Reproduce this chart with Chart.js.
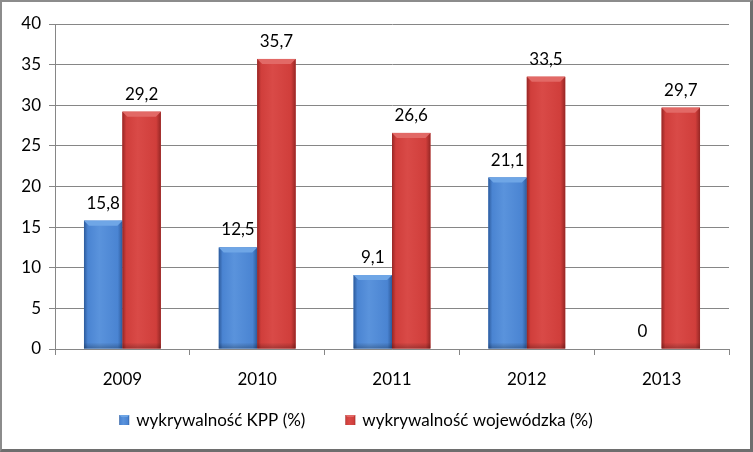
<!DOCTYPE html>
<html><head><meta charset="utf-8">
<script src="https://cdn.jsdelivr.net/npm/chart.js@4.4.0/dist/chart.umd.min.js"></script>
<style>
html,body{margin:0;padding:0;background:#fff;}
#wrap{position:relative;width:753px;height:452px;box-sizing:border-box;border-left:2px solid #8c8c8c;border-top:2px solid #8c8c8c;border-right:3px solid #6e6e6e;border-bottom:3px solid #6e6e6e;background:#fff;}
canvas{display:block;}
</style></head>
<body><div id="wrap"><canvas id="c" width="748" height="447"></canvas></div>
<script>
const categories = ['2009','2010','2011','2012','2013'];
const kppValues = [15.8, 12.5, 9.1, 21.1, 0];
const wojValues = [29.2, 35.7, 26.6, 33.5, 29.7];
const seriesNames = ['wykrywalność KPP (%)', 'wykrywalność wojewódzka (%)'];
const FONT = 'Lato, "Open Sans", sans-serif';

const shades = [
  {base:'#4a84d2', light:'#5a93dc', dark:'#2d5b9c', top:'#6fa6e6'},
  {base:'#d03e3b', light:'#d94a47', dark:'#962725', top:'#e26966'}
];

function shadeRect(ctx, s, x0, y0, w, h, bevMax){
  const g = ctx.createLinearGradient(x0,0,x0+w,0);
  g.addColorStop(0, s.dark); g.addColorStop(0.1, s.base); g.addColorStop(0.4, s.light);
  g.addColorStop(0.88, s.base); g.addColorStop(1, s.dark);
  ctx.fillStyle = g; ctx.fillRect(x0,y0,w,h);
  const bev = Math.min(bevMax, h/2);
  ctx.fillStyle = s.top;
  ctx.beginPath(); ctx.moveTo(x0,y0); ctx.lineTo(x0+w,y0); ctx.lineTo(x0+w-bev,y0+bev); ctx.lineTo(x0+bev,y0+bev); ctx.closePath(); ctx.fill();
}

const shadePlugin = {
  id:'shade',
  afterDatasetsDraw(chart){
    const ctx = chart.ctx;
    chart.data.datasets.forEach((ds, di)=>{
      const meta = chart.getDatasetMeta(di);
      const s = shades[di];
      meta.data.forEach((bar)=>{
        const w = bar.width, x0 = bar.x - w/2, y0 = Math.min(bar.y, bar.base), h = Math.abs(bar.base - bar.y);
        if (h < 0.5) return;
        ctx.save();
        shadeRect(ctx, s, x0, y0, w, h, 5);
        const vg = ctx.createLinearGradient(0,y0+h-6,0,y0+h);
        vg.addColorStop(0,'rgba(0,0,0,0)'); vg.addColorStop(1,'rgba(0,0,0,0.25)');
        ctx.fillStyle = vg; ctx.fillRect(x0,y0+h-6,w,6);
        ctx.restore();
      });
    });
  }
};

const labelPlugin = {
  id:'vlabels',
  afterDatasetsDraw(chart){
    const ctx = chart.ctx;
    ctx.save();
    ctx.font = '17px ' + FONT; ctx.fillStyle = '#000'; ctx.textAlign='center'; ctx.textBaseline='bottom';
    chart.data.datasets.forEach((ds, di)=>{
      chart.getDatasetMeta(di).data.forEach((bar, i)=>{
        ctx.fillText(String(ds.data[i]).replace('.', ','), bar.x, bar.y - 9);
      });
    });
    ctx.restore();
  }
};

const legendPlugin = {
  id:'customLegend',
  afterDraw(chart){
    const ctx = chart.ctx;
    ctx.save();
    ctx.font = '17px ' + FONT; ctx.fillStyle = '#000'; ctx.textBaseline='middle'; ctx.textAlign='left';
    const box = 10, gap = 7, spacing = 40, cy = 418;
    const widths = chart.data.datasets.map(ds => ctx.measureText(ds.label).width);
    const total = widths.reduce((a,w)=>a+box+gap+w,0) + spacing*(widths.length-1);
    let x = 354 - total/2;
    chart.data.datasets.forEach((ds, i)=>{
      shadeRect(ctx, shades[i], x, cy-box/2, box, box, 2);
      ctx.fillStyle = '#000';
      ctx.fillText(ds.label, x+box+gap, cy+1);
      x += box + gap + widths[i] + spacing;
    });
    ctx.restore();
  }
};

new Chart(document.getElementById('c'), {
  type:'bar',
  data:{
    labels: categories,
    datasets:[
      {label: seriesNames[0], data: kppValues, backgroundColor: shades[0].base},
      {label: seriesNames[1], data: wojValues, backgroundColor: shades[1].base}
    ]
  },
  options:{
    responsive:false, animation:false, devicePixelRatio:1,
    layout:{padding:{top:22, right:21, left:0, bottom:50}},
    datasets:{bar:{categoryPercentage:0.57, barPercentage:1.0}},
    scales:{
      x:{
        grid:{offset:true, drawOnChartArea:false, color:'#868686', tickLength:6},
        border:{color:'#868686'},
        ticks:{font:{family:FONT,size:17}, color:'#000', padding:14},
        afterFit(scale){ scale.height = 50; }
      },
      y:{
        min:0, max:40,
        ticks:{stepSize:5, font:{family:FONT,size:17}, color:'#000', padding:8},
        grid:{color:'#868686', tickLength:6},
        border:{color:'#868686'},
        afterFit(scale){ scale.width = 53; }
      }
    },
    plugins:{
      legend:{display:false},
      tooltip:{enabled:false}
    }
  },
  plugins:[shadePlugin, labelPlugin, legendPlugin]
});
</script></body></html>
